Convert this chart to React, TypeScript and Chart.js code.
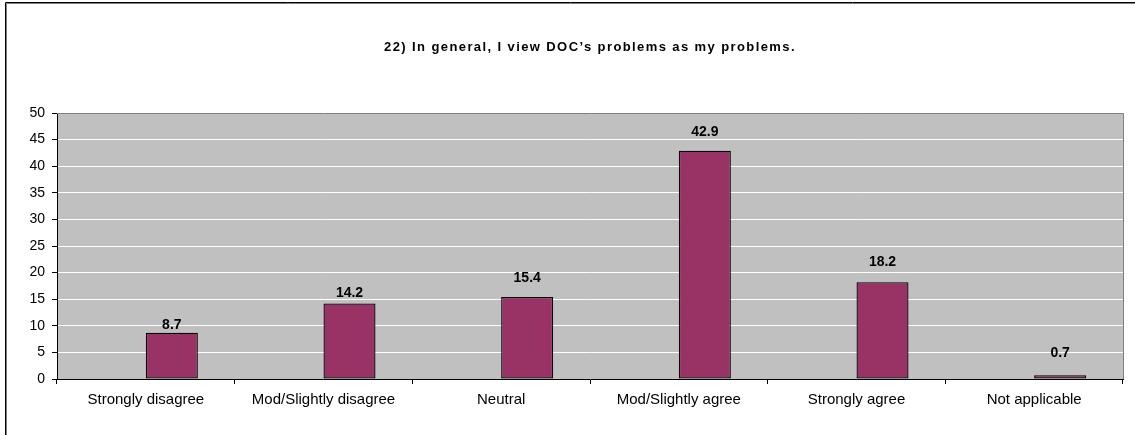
import React, { useEffect, useRef } from 'react';
import { Chart, registerables } from 'chart.js';

Chart.register(...registerables);

const TITLE = '22) In general, I view DOC\u2019s problems as my problems.';
const categories = [
  'Strongly disagree',
  'Mod/Slightly disagree',
  'Neutral',
  'Mod/Slightly agree',
  'Strongly agree',
  'Not applicable',
];
const percentValues = [8.7, 14.2, 15.4, 42.9, 18.2, 0.7];
const emptySeries = [null, null, null, null, null, null];
const Y_MIN = 0;
const Y_MAX = 50;
const Y_STEP = 5;

// label lift above the bar top (style only)
const labelLift = [8, 10, 19, 19, 20, 22];

const FONT = '"Liberation Sans", Arial, Helvetica, sans-serif';

const framePlugin = {
  id: 'frame',
  beforeDraw(chart: any) {
    const { ctx, chartArea, width, height } = chart;
    ctx.save();
    ctx.fillStyle = '#ffffff';
    ctx.fillRect(0, 0, width, height);
    // outer frame
    ctx.strokeStyle = '#000000';
    ctx.lineWidth = 1;
    ctx.beginPath();
    ctx.moveTo(5.5, height);
    ctx.lineTo(5.5, 2.5);
    ctx.lineTo(width, 2.5);
    ctx.stroke();
    ctx.strokeStyle = '#808080';
    ctx.beginPath();
    ctx.moveTo(6.5, height);
    ctx.lineTo(6.5, 3.5);
    ctx.lineTo(width, 3.5);
    ctx.stroke();
    // plot background
    ctx.fillStyle = '#C0C0C0';
    ctx.fillRect(chartArea.left, chartArea.top, chartArea.right - chartArea.left, chartArea.bottom - chartArea.top);
    // title
    ctx.fillStyle = '#000000';
    ctx.font = 'bold 13px ' + FONT;
    (ctx as any).letterSpacing = '1.4px';
    ctx.textAlign = 'center';
    ctx.textBaseline = 'alphabetic';
    ctx.fillText(TITLE, 590, 51);
    ctx.restore();
  },
  beforeDatasetsDraw(chart: any) {
    const { ctx, chartArea } = chart;
    ctx.save();
    ctx.strokeStyle = '#808080';
    ctx.lineWidth = 1;
    ctx.beginPath();
    ctx.moveTo(chartArea.left, Math.round(chartArea.top) + 0.5);
    ctx.lineTo(Math.round(chartArea.right) + 0.5, Math.round(chartArea.top) + 0.5);
    ctx.lineTo(Math.round(chartArea.right) + 0.5, chartArea.bottom);
    ctx.stroke();
    ctx.restore();
  },
  afterDatasetsDraw(chart: any) {
    const { ctx } = chart;
    const meta = chart.getDatasetMeta(1);
    ctx.save();
    ctx.fillStyle = '#000000';
    ctx.font = 'bold 14px ' + FONT;
    ctx.textAlign = 'center';
    ctx.textBaseline = 'middle';
    meta.data.forEach((bar: any, i: number) => {
      const v = percentValues[i];
      ctx.fillText(v.toFixed(1), bar.x, bar.y - labelLift[i]);
    });
    ctx.restore();
  },
};

export default function App() {
  const ref = useRef<HTMLCanvasElement | null>(null);

  useEffect(() => {
    if (!ref.current) return;
    const chart = new Chart(ref.current, {
      type: 'bar',
      data: {
        labels: categories,
        datasets: [
          {
            label: 'blank',
            data: emptySeries as any,
            backgroundColor: '#993366',
          },
          {
            label: 'Percent',
            data: percentValues,
            backgroundColor: '#993366',
            borderColor: '#000000',
            borderWidth: 1.3,
            borderSkipped: false,
          },
        ],
      },
      options: {
        animation: false,
        responsive: false,
        maintainAspectRatio: false,
        events: [],
        layout: { padding: { top: 113, right: 12, left: 0, bottom: 0 } },
        datasets: {
          bar: { categoryPercentage: 0.5856, barPercentage: 1 },
        },
        plugins: {
          legend: { display: false },
          tooltip: { enabled: false },
          title: { display: false },
        },
        scales: {
          x: {
            afterFit(scale: any) {
              scale.height = 56;
            },
            grid: {
              display: true,
              drawOnChartArea: false,
              drawTicks: true,
              tickLength: 5,
              color: '#000000',
              offset: true,
            },
            border: { display: true, color: '#000000', width: 1 },
            ticks: {
              color: '#000000',
              font: { family: FONT, size: 15 },
              padding: 7,
              maxRotation: 0,
              autoSkip: false,
            },
          },
          y: {
            min: Y_MIN,
            max: Y_MAX,
            afterFit(scale: any) {
              scale.width = 57;
            },
            grid: {
              color: '#ffffff',
              tickColor: '#000000',
              tickLength: 5,
              drawTicks: true,
            },
            border: { display: true, color: '#000000', width: 1 },
            ticks: {
              stepSize: Y_STEP,
              color: '#000000',
              font: { family: FONT, size: 14 },
              padding: 7,
            },
          },
        },
      },
      plugins: [framePlugin],
    });
    return () => chart.destroy();
  }, []);

  return (
    <div style={{ position: 'fixed', left: 0, top: 0, width: 1135, height: 435 }}>
      <canvas ref={ref} width={1135} height={435} style={{ width: 1135, height: 435, display: 'block' }} />
    </div>
  );
}
